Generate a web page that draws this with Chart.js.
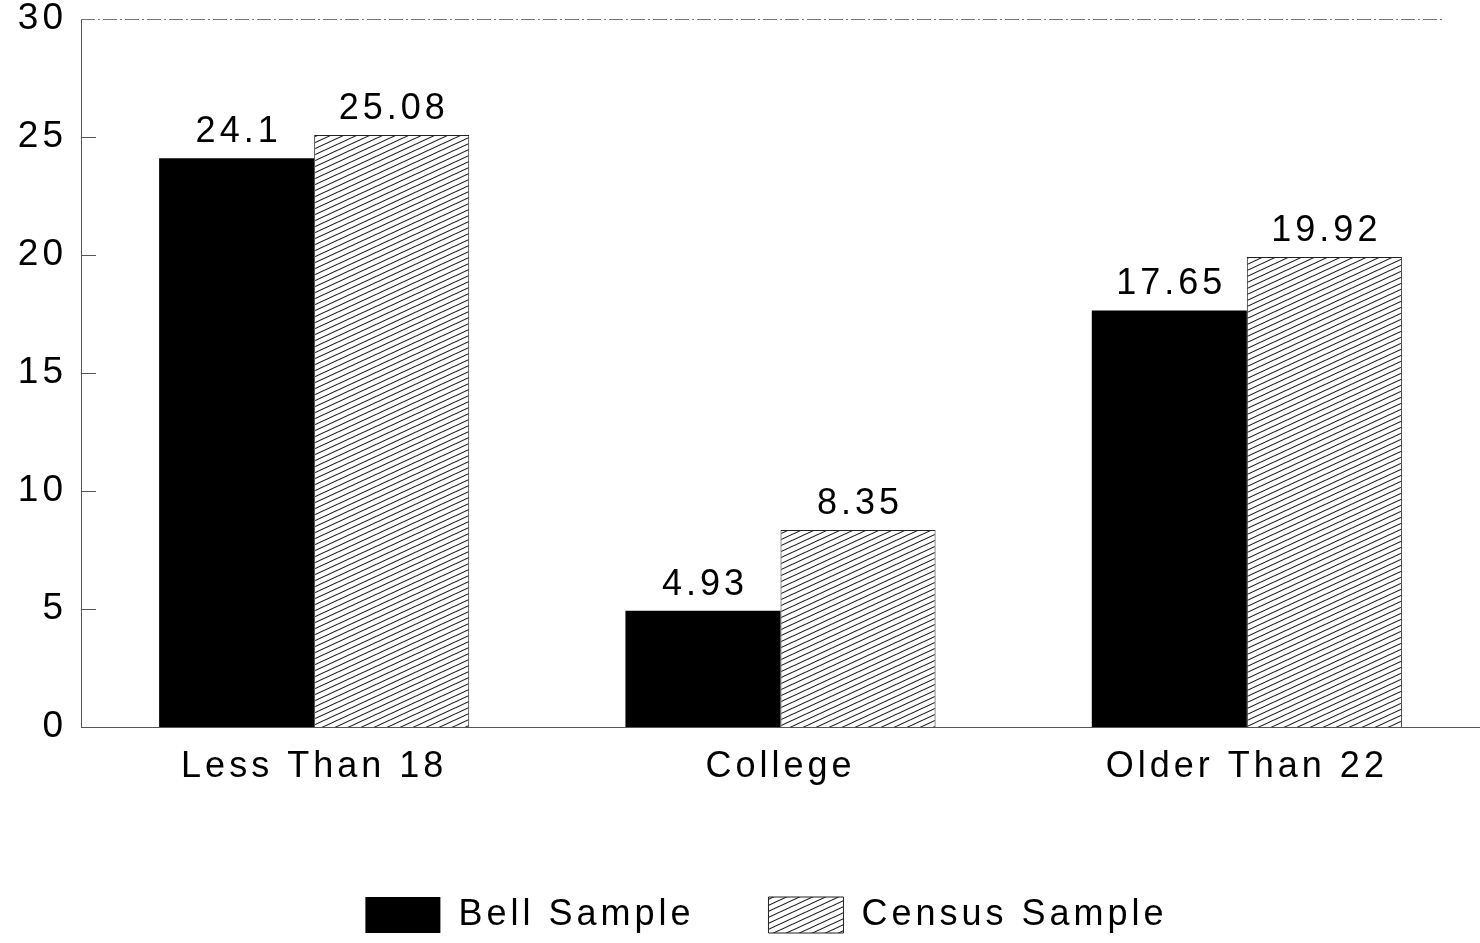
<!DOCTYPE html>
<html><head><meta charset="utf-8">
<script src="https://cdn.jsdelivr.net/npm/chart.js@4.4.1/dist/chart.umd.min.js"></script>
<style>html,body{margin:0;padding:0;background:#fff}</style>
</head><body>
<canvas id="c" width="1480" height="943"></canvas>
<script>
const categories = ['Less Than 18', 'College', 'Older Than 22'];
const seriesNames = ['Bell Sample', 'Census Sample'];
const bellSample = [24.1, 4.93, 17.65];
const censusSample = [25.08, 8.35, 19.92];
const valueLabels = [['24.1', '4.93', '17.65'], ['25.08', '8.35', '19.92']];
const yTicks = [0, 5, 10, 15, 20, 25, 30];

function makeHatch() {
  const w = 13, h = 6;
  const cv = document.createElement('canvas');
  cv.width = w; cv.height = h;
  const x = cv.getContext('2d');
  x.fillStyle = '#fff'; x.fillRect(0, 0, w, h);
  x.strokeStyle = '#1a1a1a'; x.lineWidth = 1.1;
  [[0, h, w, 0], [0, 0, w, -h], [0, 2 * h, w, h]].forEach(([a, b, c, d]) => {
    x.beginPath(); x.moveTo(a, b); x.lineTo(c, d); x.stroke();
  });
  return x.createPattern(cv, 'repeat');
}
const hatch = makeHatch();
const FONT = "'Liberation Sans', Arial, Helvetica, sans-serif";

const spacing = {
  id: 'spacing',
  beforeLayout(c) { c.ctx.letterSpacing = '4px'; },
  afterLayout(c) { if (c.legend) { c.legend.left -= 14; c.legend.right -= 14; } },
  beforeDraw(c) { c.ctx.letterSpacing = '4px'; }
};

const decor = {
  id: 'decor',
  afterDraw(c) {
    const ctx = c.ctx, a = c.chartArea, y = c.scales.y;
    ctx.save();
    ctx.strokeStyle = '#555'; ctx.lineWidth = 1;
    y.ticks.forEach(t => {
      if (t.value === 0 || t.value === 30) return;
      const py = Math.round(y.getPixelForValue(t.value)) + 0.5;
      ctx.beginPath(); ctx.moveTo(a.left, py); ctx.lineTo(a.left + 15, py); ctx.stroke();
    });
    const ty = Math.round(y.getPixelForValue(30)) + 0.5;
    ctx.strokeStyle = '#777'; ctx.setLineDash([14, 3, 2, 3]);
    ctx.beginPath(); ctx.moveTo(a.left, ty); ctx.lineTo(a.right - 35, ty); ctx.stroke();
    ctx.setLineDash([]);
    ctx.letterSpacing = '4px';
    ctx.fillStyle = '#000';
    ctx.font = '36px ' + FONT;
    ctx.textAlign = 'center'; ctx.textBaseline = 'alphabetic';
    c.data.datasets.forEach((ds, di) => {
      c.getDatasetMeta(di).data.forEach((bar, i) => {
        ctx.fillText(valueLabels[di][i], bar.x + 2, bar.y - 16);
      });
    });
    ctx.restore();
  }
};

new Chart(document.getElementById('c'), {
  type: 'bar',
  data: {
    labels: categories,
    datasets: [
      { label: seriesNames[0], data: bellSample, backgroundColor: '#000', borderColor: '#000', borderWidth: 0 },
      { label: seriesNames[1], data: censusSample, backgroundColor: hatch, borderColor: '#222', borderWidth: 1 }
    ]
  },
  options: {
    responsive: false,
    animation: false,
    devicePixelRatio: 1,
    layout: { padding: { top: 0, left: 0, right: 0, bottom: 0 } },
    datasets: { bar: { categoryPercentage: 0.665, barPercentage: 1 } },
    scales: {
      x: {
        grid: { display: false, drawTicks: false },
        border: { display: true, color: '#555', width: 1 },
        ticks: { color: '#000', font: { family: FONT, size: 36 }, padding: 18, maxRotation: 0 },
        afterFit(s) { s.height = 96; }
      },
      y: {
        min: 0, max: 30,
        grid: { display: false, drawTicks: false },
        border: { display: true, color: '#555', width: 1 },
        afterBuildTicks(s) { s.ticks = yTicks.map(v => ({ value: v })); },
        ticks: { color: '#000', font: { family: FONT, size: 37 }, padding: 14 },
        afterFit(s) { s.width = 81; s.paddingTop = 19; s.paddingBottom = 0; }
      }
    },
    plugins: {
      tooltip: { enabled: false },
      legend: {
        position: 'bottom',
        align: 'center',
        fullSize: false,
        labels: {
          color: '#000',
          font: { family: FONT, size: 36 },
          boxWidth: 75, boxHeight: 36,
          padding: 74
        }
      }
    }
  },
  plugins: [spacing, decor]
});
</script>
</body></html>
